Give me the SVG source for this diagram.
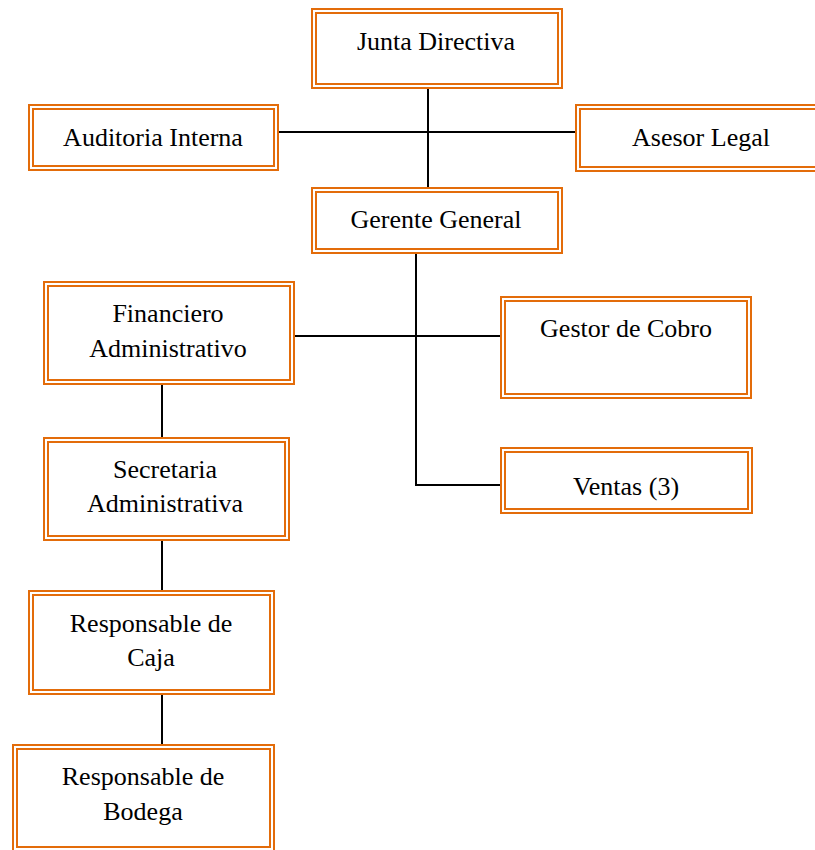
<svg xmlns="http://www.w3.org/2000/svg" width="815" height="850" viewBox="0 0 815 850">
<style>
.o{fill:#fff;stroke:#E36C0A;stroke-width:2}
.i{fill:none;stroke:#E36C0A;stroke-width:2}
text{font-family:"Liberation Serif","Times New Roman",serif;font-size:26px;fill:#000;text-anchor:middle}
.c{stroke:#000;stroke-width:2;fill:none}
</style>
<rect width="815" height="850" fill="#fff"/>
<g id="connectors">
<line class="c" x1="428" y1="89" x2="428" y2="187"/>
<line class="c" x1="279" y1="132" x2="575" y2="132"/>
<polyline class="c" points="416,254 416,485 500,485"/>
<line class="c" x1="295" y1="336" x2="500" y2="336"/>
<line class="c" x1="162" y1="385" x2="162" y2="437"/>
<line class="c" x1="162" y1="541" x2="162" y2="590"/>
<line class="c" x1="162" y1="695" x2="162" y2="744"/>
</g>
<g id="junta">
<rect class="o" x="312" y="9" width="250" height="79"/>
<rect class="i" x="316" y="13" width="242" height="71"/>
<text x="436" y="50">Junta Directiva</text>
</g>
<g id="auditoria">
<rect class="o" x="29" y="105" width="249" height="65"/>
<rect class="i" x="33" y="109" width="241" height="57"/>
<text x="153" y="146">Auditoria Interna</text>
</g>
<g id="asesor">
<rect class="o" x="576" y="105" width="253" height="66"/>
<rect class="i" x="580" y="109" width="245" height="58"/>
<text x="701" y="146">Asesor Legal</text>
</g>
<g id="gerente">
<rect class="o" x="312" y="188" width="250" height="65"/>
<rect class="i" x="316" y="192" width="242" height="57"/>
<text x="436" y="228">Gerente General</text>
</g>
<g id="financiero">
<rect class="o" x="44" y="282" width="250" height="102"/>
<rect class="i" x="48" y="286" width="242" height="94"/>
<text x="168" y="322">Financiero</text>
<text x="168" y="357">Administrativo</text>
</g>
<g id="gestor">
<rect class="o" x="501" y="297" width="250" height="101"/>
<rect class="i" x="505" y="301" width="242" height="93"/>
<text x="626" y="337">Gestor de Cobro</text>
</g>
<g id="ventas">
<rect class="o" x="501" y="448" width="251" height="65"/>
<rect class="i" x="505" y="452" width="243" height="57"/>
<text x="626" y="495">Ventas (3)</text>
</g>
<g id="secretaria">
<rect class="o" x="44" y="438" width="245" height="102"/>
<rect class="i" x="48" y="442" width="237" height="94"/>
<text x="165" y="478">Secretaria</text>
<text x="165" y="512">Administrativa</text>
</g>
<g id="caja">
<rect class="o" x="29" y="591" width="245" height="103"/>
<rect class="i" x="33" y="595" width="237" height="95"/>
<text x="151" y="632">Responsable de</text>
<text x="151" y="666">Caja</text>
</g>
<g id="bodega">
<rect class="o" x="13" y="745" width="261" height="106"/>
<rect class="i" x="17" y="749" width="253" height="98"/>
<text x="143" y="785">Responsable de</text>
<text x="143" y="820">Bodega</text>
</g>
</svg>
